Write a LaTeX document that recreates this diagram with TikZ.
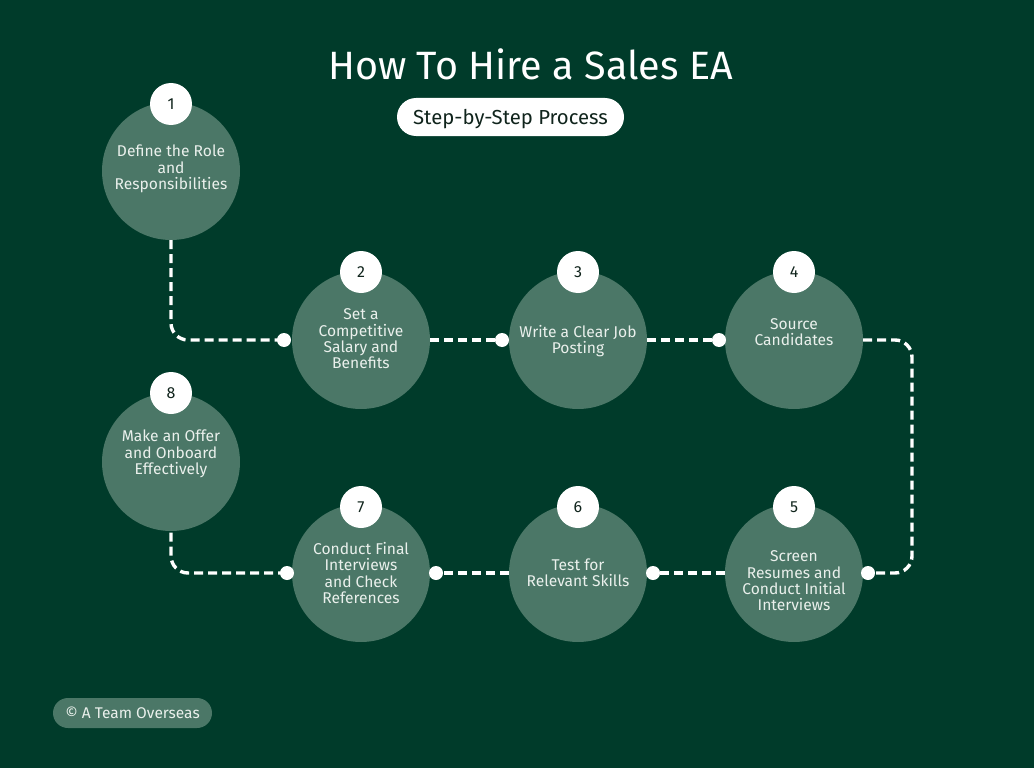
\documentclass[tikz,border=0pt]{standalone}
\usepackage{fontspec}
\setmainfont{Fira Sans}
\definecolor{bg}{HTML}{003B2A}
\definecolor{disc}{HTML}{4B7767}
\definecolor{txt}{HTML}{EAF0EC}
\definecolor{ink}{HTML}{10241C}
\tikzset{
  stepdisc/.style={circle, fill=disc, minimum size=138pt, inner sep=0pt},
  steptext/.style={text=txt, font=\fontsize{15.6}{16.4}\selectfont, align=center, inner sep=0pt},
  badge/.style={circle, fill=white, minimum size=42pt, inner sep=0pt, font=\fontsize{16}{16}\selectfont, text=ink},
  link/.style={draw=white, line width=3.4pt, dash pattern=on 9pt off 5pt, rounded corners=17pt},
  enddot/.style={fill=white},
  pill/.style={rounded corners=19pt, inner sep=0pt}
}
\begin{document}
\begin{tikzpicture}[x=1pt,y=-1pt]
\fill[bg] (0,0) rectangle (1034,768);
\useasboundingbox (0,0) rectangle (1034,768);

% title
\node[text=white, font=\fontsize{39.5}{41}\selectfont] (title) at (530.5,64) {How To Hire a Sales EA};
\node[pill, fill=white, minimum width=227pt, minimum height=38pt] (sub) at (510.5,117) {};
\node[text=ink, font=\fontsize{20.3}{21}\selectfont, inner sep=0pt] (subtext) at (510.5,119) {Step-by-Step Process};

% connector coordinates
\coordinate (d2) at (284,340);
\coordinate (d3) at (502,340);
\coordinate (d4) at (719,340);
\coordinate (k4) at (912,340);
\coordinate (k5) at (912,573);
\coordinate (d5) at (868,573);
\coordinate (d6) at (653,573);
\coordinate (d7) at (436,573);
\coordinate (d8) at (287,573);

% discs
\node[stepdisc] (c1) at (171,171) {};
\node[stepdisc] (c2) at (361,340) {};
\node[stepdisc] (c3) at (578,340) {};
\node[stepdisc] (c4) at (794,340) {};
\node[stepdisc] (c5) at (794,573) {};
\node[stepdisc] (c6) at (578,573) {};
\node[stepdisc] (c7) at (361,573) {};
\node[stepdisc] (c8) at (171,462) {};

% connectors
\draw[link] (c1.south) |- (d2);
\draw[link] (c2.east) -- (d3);
\draw[link] (c3.east) -- (d4);
\draw[link] (c4.east) -- (k4) -- (k5) -- (d5);
\draw[link] (c5.west) -- (d6);
\draw[link] (c6.west) -- (d7);
\draw[link] (d8) -| (c8.south);
\foreach \d in {d2,d3,d4,d5,d6,d7,d8} \fill[enddot] (\d) circle (7pt);

% texts
\node[steptext] (t1) at (171,169) {Define the Role\\and\\Responsibilities};
\node[steptext] (t2) at (361,339) {Set a\\Competitive\\Salary and\\Benefits};
\node[steptext] (t3) at (578,341) {Write a Clear Job\\Posting};
\node[steptext] (t4) at (794,332) {Source\\Candidates};
\node[steptext] (t5) at (794,581) {Screen\\Resumes and\\Conduct Initial\\Interviews};
\node[steptext] (t6) at (578,573) {Test for\\Relevant Skills};
\node[steptext] (t7) at (361,573) {Conduct Final\\Interviews\\and Check\\References};
\node[steptext] (t8) at (171,454) {Make an Offer\\and Onboard\\Effectively};

% badges
\node[badge] (b1) at (171,104) {1};
\node[badge] (b2) at (361,272) {2};
\node[badge] (b3) at (578,272) {3};
\node[badge] (b4) at (794,272) {4};
\node[badge] (b5) at (794,507) {5};
\node[badge] (b6) at (578,507) {6};
\node[badge] (b7) at (361,507) {7};
\node[badge] (b8) at (171,393) {8};

% footer
\node[pill, rounded corners=15pt, fill=disc, minimum width=159pt, minimum height=30pt, text=txt, font=\fontsize{15.5}{16}\selectfont] (copy) at (132.5,713) {© A Team Overseas};
\end{tikzpicture}
\end{document}
